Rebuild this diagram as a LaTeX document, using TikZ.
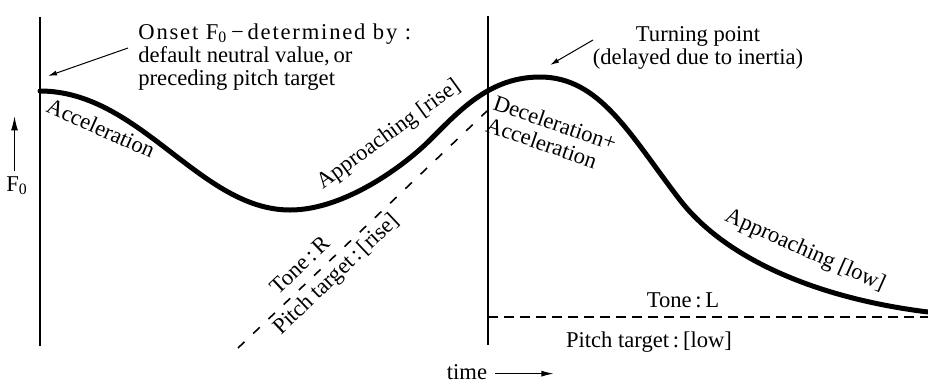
\documentclass[tikz,border=0pt]{standalone}
\usepackage{fontspec}
\setmainfont{Liberation Serif}
\usetikzlibrary{arrows.meta}

\begin{document}
\begin{tikzpicture}[x=0.5pt, y=-0.5pt,
    lbl/.style={font={\fontsize{11.3}{11.5}\selectfont}, inner sep=0pt},
    contour/.style={line width=2.5pt, line cap=round},
    axisline/.style={line width=1pt},
    target/.style={line width=0.9pt, dash pattern=on 5pt off 3pt},
    risetarget/.style={line width=0.8pt, dash pattern=on 4.5pt off 6pt},
    arr/.style={line width=0.5pt, -{Latex[length=4.5pt, width=2.5pt]}}]
  \useasboundingbox (0,0) rectangle (928,382);

  %% syllable boundaries
  \draw[axisline] (40,17) -- (40,346);
  \draw[axisline] (488,16) -- (488,345);

  %% pitch targets
  \draw[risetarget] (238,348) -- (487,111);
  \draw[target] (488,317) -- (928,317);

  %% F0 contour
  \draw[contour] (40,91) .. controls (140,91) and (200,210) .. (290,210)
    .. controls (345,210) and (405,165) .. (430,140)
    .. controls (460,110) and (490,77) .. (540,77)
    .. controls (600,77) and (630,135) .. (680,200)
    .. controls (725,258) and (815,298) .. (928,312);

  %% axis labels
  \node[lbl] (f0lbl) at (17,186) {F\textsubscript{0}};
  \draw[arr, -{Latex[length=7pt, width=3.5pt]}] ([xshift=-1.25pt, yshift=2.5pt]f0lbl.north) -- ++(0,-55);
  \node[lbl, anchor=base] (timelbl) at (467,379) {time};
  \draw[arr, -{Latex[length=6pt, width=3pt]}] ([xshift=4pt, yshift=-1pt]timelbl.east) -- ++(58,0);

  %% notes
  \node[lbl, align=left, anchor=north west] (onset) at (138,23)
    {{\addfontfeature{LetterSpace=8}Onset F\textsubscript{0}\,−\,determined by\ :}\\
     default neutral value,\,or\\ preceding pitch target};
  \coordinate (onsettail) at (128,48);
  \coordinate (onsettip) at (48,76);
  \draw[arr] (onsettail) -- (onsettip);

  \node[lbl, align=center, anchor=north] (turning) at (698,26)
    {Turning point\\(delayed due to inertia)};
  \coordinate (turntail) at (593,40);
  \coordinate (turntip) at (550,65);
  \draw[arr] (turntail) -- (turntip);

  %% movement labels
  \node[lbl, rotate=-24] (accel) at (101,128) {Acceleration};
  \node[lbl, rotate=36] (apprise) at (389,135) {Approaching [rise]};
  \node[lbl, rotate=-19, align=left, anchor=north west] (decel) at (497,94)
    {Deceleration+\\Acceleration};
  \node[lbl, rotate=-24] (apprlow) at (805,251) {Approaching [low]};

  %% target labels
  \node[lbl, rotate=43.5] (tonerise) at (300,265) {Tone\,:\,R};
  \node[lbl, rotate=43.5] (pitchrise) at (337,275) {Pitch target\,:\,[rise]};
  \node[lbl, anchor=base] (tonelow) at (683,307) {Tone\,:\,L};
  \node[lbl, anchor=base] (pitchlow) at (649,347) {Pitch target\,:\,[low]};

\end{tikzpicture}
\end{document}
